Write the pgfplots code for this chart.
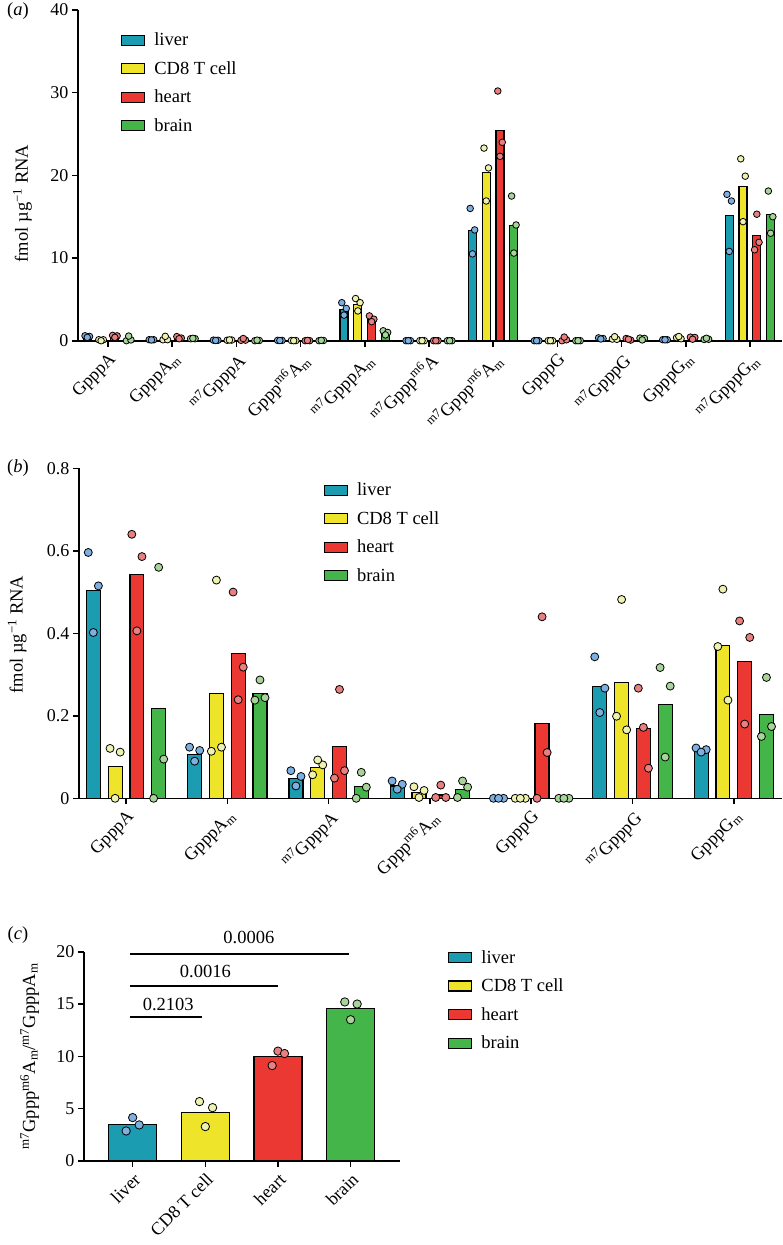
\documentclass[border=0pt]{standalone}
\usepackage{fontspec}
\setmainfont{Liberation Serif}
\usepackage{pgfplots}
\pgfplotsset{compat=1.18}
\usepackage{pgfplotstable}

\definecolor{cliv}{RGB}{27,156,176}
\definecolor{ccd}{RGB}{238,229,42}
\definecolor{chea}{RGB}{236,56,51}
\definecolor{cbra}{RGB}{68,182,73}
\definecolor{dliv}{RGB}{125,176,224}
\definecolor{dcd}{RGB}{238,242,176}
\definecolor{dhea}{RGB}{232,128,128}
\definecolor{dbra}{RGB}{168,212,154}

% a = index in panel (a), b = index in panel (b) (nan = not shown)
\pgfplotstableread{
a  b   bar    d1     d2     d3
0  0   0.503  0.596  0.515  0.402
1  1   0.107  0.124  0.116  0.090
2  2   0.048  0.067  0.053  0.030
3  3   0.030  0.042  0.034  0.022
4  nan 3.8    4.6    3.9    3.1
5  nan 0      0      0      0
6  nan 13.3   16.0   13.4   10.5
7  4   0      0      0      0
8  5   0.272  0.343  0.267  0.208
9  6   0.116  0.122  0.118  0.112
10 nan 15.1   17.7   16.9   10.8
}\liver
\pgfplotstableread{
a  b   bar    d1     d2     d3
0  0   0.077  0.121  0.112  0.000
1  1   0.255  0.114  0.124  0.529
2  2   0.075  0.057  0.081  0.093
3  3   0.014  0.028  0.019  0.002
4  nan 4.4    5.1    4.6    3.6
5  nan 0      0      0      0
6  nan 20.3   23.3   20.9   16.9
7  4   0      0      0      0
8  5   0.280  0.199  0.166  0.482
9  6   0.370  0.368  0.238  0.507
10 nan 18.7   22.0   19.9   14.4
}\cdeight
\pgfplotstableread{
a  b   bar    d1     d2     d3
0  0   0.543  0.640  0.586  0.406
1  1   0.352  0.500  0.318  0.239
2  2   0.125  0.049  0.067  0.264
3  3   0.008  0.002  0.002  0.032
4  nan 2.5    3.0    2.6    2.3
5  nan 0      0      0      0
6  nan 25.4   30.2   24.0   22.3
7  4   0.182  0.000  0.111  0.440
8  5   0.170  0.267  0.073  0.172
9  6   0.331  0.430  0.390  0.180
10 nan 12.7   11.0   11.9   15.3
}\heart
\pgfplotstableread{
a  b   bar    d1     d2     d3
0  0   0.217  0.000  0.095  0.560
1  1   0.255  0.238  0.244  0.287
2  2   0.028  0.000  0.027  0.063
3  3   0.022  0.002  0.027  0.042
4  nan 0.9    1.2    1.0    0.7
5  nan 0      0      0      0
6  nan 13.9   17.5   14.0   10.6
7  4   0      0      0      0
8  5   0.228  0.317  0.272  0.100
9  6   0.204  0.150  0.174  0.293
10 nan 15.3   18.1   15.0   13.0
}\brain

\newcommand\tis[5]{%
  \addplot[bars=#4] table[x expr=\thisrow{#2}#3, y=bar] {#1};
  \addplot[dots=#5] table[x expr=\thisrow{#2}#3-\jt, y=d1] {#1};
  \addplot[dots=#5] table[x expr=\thisrow{#2}#3+\jt, y=d2] {#1};
  \addplot[dots=#5] table[x expr=\thisrow{#2}#3, y=d3] {#1};
}
\newcommand\bigf{\fontsize{18.5}{22}\selectfont}

\begin{document}
\begin{tikzpicture}
\useasboundingbox (0,0) rectangle (783pt,-1245pt);
\pgfplotsset{
  base/.style={scale only axis, axis lines=left,
    axis line style={-, line width=1.6pt},
    tick style={black, line width=1.6pt}, major tick length=6pt, tick align=outside,
    enlargelimits=false, clip=false, ymin=0,
    /pgf/number format/assume math mode=true,
    ticklabel style={font=\fontsize{18}{21}\selectfont},
    x tick label style={rotate=45, anchor=north east},
    legend style={draw=none, fill=none, inner sep=0pt, anchor=north west,
      font=\bigf, row sep=10.2pt,
      /tikz/every odd column/.append style={column sep=7pt}},
    legend cell align=left,
  },
  bars/.style={ybar, bar width=\bw, bar shift=0pt, fill=#1, draw=black, line width=1.2pt,
    legend image code/.code={\draw[fill=#1, draw=black, line width=1.2pt] (0pt,-5pt) rectangle (23pt,5pt);}},
  dots/.style={only marks, mark=*, mark size=\ms,
    mark options={fill=#1, draw=black, line width=0.8pt}, forget plot},
}

% (a)
\node[font=\bigf] at (18pt,-11pt) {(\textit{a})};
\def\bw{0.125}\def\ms{3.3pt}\def\jt{0.035}
\begin{axis}[base, at={(78pt,-340.7pt)}, anchor=south west,
  width=704pt, height=330.7pt,
  xmin=-0.467, xmax=10.5, ymax=40, ytick={0,10,20,30,40},
  xtick={0,...,10},
  xticklabels={GpppA, GpppA\textsubscript{m}, \textsuperscript{m7}GpppA,
    Gppp\textsuperscript{m6}A\textsubscript{m}, \textsuperscript{m7}GpppA\textsubscript{m},
    \textsuperscript{m7}Gppp\textsuperscript{m6}A, \textsuperscript{m7}Gppp\textsuperscript{m6}A\textsubscript{m},
    GpppG, \textsuperscript{m7}GpppG, GpppG\textsubscript{m}, \textsuperscript{m7}GpppG\textsubscript{m}},
  ylabel={fmol µg\textsuperscript{−1} RNA},
  ylabel style={at={(axis description cs:-0.079,0.415)}, rotate=0, anchor=center, font=\bigf},
  legend style={at={(axis description cs:0.061,0.937)}},
]
\tis{\liver}{a}{-0.3225}{cliv}{dliv}
\tis{\cdeight}{a}{-0.1075}{ccd}{dcd}
\tis{\heart}{a}{+0.1075}{chea}{dhea}
\tis{\brain}{a}{+0.3225}{cbra}{dbra}
\legend{liver, CD8 T cell, heart, brain}
\end{axis}

% (b)
\node[font=\bigf] at (18pt,-468pt) {(\textit{b})};
\def\bw{0.138}\def\ms{4pt}\def\jt{0.05}
\begin{axis}[base, at={(79pt,-798.3pt)}, anchor=south west,
  width=703pt, height=330pt,
  xmin=-0.464, xmax=6.476, ymax=0.8, ytick={0,0.2,0.4,0.6,0.8},
  xtick={0,...,6},
  xticklabels={GpppA, GpppA\textsubscript{m}, \textsuperscript{m7}GpppA,
    Gppp\textsuperscript{m6}A\textsubscript{m}, GpppG, \textsuperscript{m7}GpppG, GpppG\textsubscript{m}},
  ylabel={fmol µg\textsuperscript{−1} RNA},
  ylabel style={at={(axis description cs:-0.088,0.496)}, rotate=0, anchor=center, font=\bigf},
  legend style={at={(axis description cs:0.348,0.962)}},
]
\tis{\liver}{b}{-0.3225}{cliv}{dliv}
\tis{\cdeight}{b}{-0.1075}{ccd}{dcd}
\tis{\heart}{b}{+0.1075}{chea}{dhea}
\tis{\brain}{b}{+0.3225}{cbra}{dbra}
\legend{liver, CD8 T cell, heart, brain}
\end{axis}

% (c)
\node[font=\bigf] at (18pt,-935pt) {(\textit{c})};
\def\bw{0.66}\def\ms{4.2pt}
\begin{axis}[base, at={(84pt,-1161pt)}, anchor=south west,
  width=316pt, height=209.3pt,
  xmin=-0.67, xmax=3.68, ymax=20, ytick={0,5,10,15,20},
  xtick={0,...,3}, xticklabels={liver, CD8 T cell, heart, brain},
  ylabel={\textsuperscript{m7}Gppp\textsuperscript{m6}A\textsubscript{m}/\textsuperscript{m7}GpppA\textsubscript{m}},
  ylabel style={at={(axis description cs:-0.172,0.5)}, rotate=0, anchor=center, font=\bigf},
  legend style={at={(axis description cs:1.152,1.017)}},
]
\addplot[bars=cliv] coordinates {(0,3.50)};
\addplot[dots=dliv] coordinates {(0,4.15) (0.09,3.45) (-0.09,2.87)};
\addplot[bars=ccd] coordinates {(1,4.66)};
\addplot[dots=dcd] coordinates {(0.92,5.68) (1.10,5.10) (1.0,3.29)};
\addplot[bars=chea] coordinates {(2,9.95)};
\addplot[dots=dhea] coordinates {(2.0,10.50) (2.09,10.27) (1.92,9.12)};
\addplot[bars=cbra] coordinates {(3,14.55)};
\addplot[dots=dbra] coordinates {(2.92,15.20) (3.09,15.00) (3.0,13.50)};
\addplot[black, line width=2pt, forget plot] coordinates {(-0.04,13.75) (0.96,13.75)};
\addplot[black, line width=2pt, forget plot] coordinates {(-0.04,16.75) (2.0,16.75)};
\addplot[black, line width=2pt, forget plot] coordinates {(-0.04,19.75) (2.98,19.75)};
\node[font=\bigf] at (axis cs:0.49,15.0) {0.2103};
\node[font=\bigf] at (axis cs:1.0,18.1) {0.0016};
\node[font=\bigf] at (axis cs:1.6,21.4) {0.0006};
\legend{liver, CD8 T cell, heart, brain}
\end{axis}
\end{tikzpicture}
\end{document}
